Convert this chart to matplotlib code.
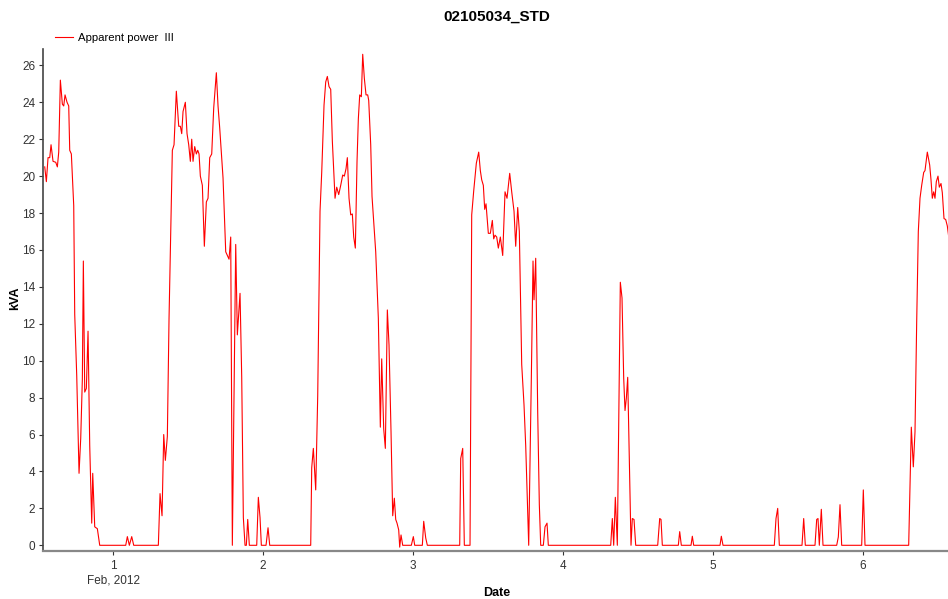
import numpy as np
import pandas as pd
import matplotlib
matplotlib.use('Agg')
import matplotlib.pyplot as plt
import matplotlib.dates as mdates

plt.rcParams['font.family'] = ['Liberation Sans', 'DejaVu Sans']

# 读数：相对 2012-02-01 00:00 的小时数，以及视在功率 (kVA)
hours = [-10.93, -10.67, -10.40, -10.13, -9.92, -9.60, -9.17, -8.91, -8.69, -8.43,
         -8.11, -7.89, -7.68, -7.36, -7.09, -6.93, -6.67, -6.29, -6.13, -5.81,
         -5.44, -5.17, -4.91, -4.75, -4.53, -4.27, -4.00, -3.73, -3.41, -3.25,
         -2.93, -2.51, -2.13, 2.03, 2.29, 2.61, 2.99, 3.31, 7.25, 7.52,
         7.84, 8.11, 8.37, 8.69, 8.96, 9.23, 9.49, 9.76, 10.13, 10.51,
         10.77, 10.99, 11.20, 11.57, 11.84, 12.11, 12.37, 12.59, 12.80, 13.07,
         13.33, 13.55, 13.76, 13.97, 14.29, 14.61, 14.93, 15.20, 15.47, 15.79,
         16.11, 16.53, 16.80, 17.07, 17.60, 18.03, 18.56, 18.83, 19.09, 19.63,
         19.89, 20.32, 20.59, 20.85, 21.12, 21.33, 21.55, 21.81, 22.99, 23.25,
         23.52, 23.73, 24.48, 24.80, 25.07, 31.63, 31.79, 32.05, 32.43, 32.75,
         33.12, 33.39, 33.76, 34.03, 34.29, 34.56, 34.83, 35.09, 35.52, 35.79,
         36.11, 36.43, 36.75, 37.01, 37.28, 37.49, 37.76, 38.03, 38.29, 38.51,
         38.77, 39.04, 39.25, 39.47, 39.73, 39.95, 40.21, 40.48, 40.75, 40.91,
         41.23, 41.44, 42.03, 42.45, 42.77, 42.99, 43.31, 43.57, 43.89, 44.16,
         44.48, 44.75, 45.01, 45.23, 45.44, 45.71, 45.87, 46.08, 46.35, 47.73,
         48.05, 48.27, 49.49, 49.71, 50.03, 50.29, 55.47, 55.63, 55.95, 56.21,
         57.12, 57.39, 57.71, 58.13, 58.51, 58.77, 58.99, 59.25, 59.47, 59.68,
         60.05, 60.37, 60.69, 60.91, 61.12, 61.39, 61.65, 61.97, 62.35, 62.72,
         63.04, 63.47, 63.79, 64.16, 64.43, 64.75, 65.01, 65.39, 65.76, 66.03,
         66.51, 66.93, 67.20, 67.36, 67.63, 67.95, 68.21, 68.43, 68.85, 69.12,
         69.44, 69.65, 79.63, 79.89, 80.11, 80.37, 80.69, 81.17, 81.44, 81.71,
         81.92, 82.13, 82.35, 82.61, 82.88, 83.09, 83.36, 83.63, 87.15, 87.47,
         87.68, 87.89, 90.45, 90.67, 90.93, 92.48, 92.69, 92.91, 97.12, 97.33,
         97.60, 105.81, 106.08, 106.35, 106.61, 110.24, 110.51, 110.77, 112.32, 112.59,
         112.80, 113.01, 113.33, 113.60, 115.79, 116.05, 116.32, 116.59, 119.79, 120.05,
         120.32, 127.31, 127.73, 128.05, 128.32, 128.59, 128.85, 129.12, 129.39, 129.71,
         129.92, 130.29, 130.67, 130.88, 131.09, 131.31, 131.52, 131.73, 132.00, 132.21,
         132.48, 132.69, 132.96, 133.23, 133.49, 133.76]

kva = [20.5, 19.7, 21.0, 21.0, 21.7, 20.8, 20.75, 20.5, 21.3, 25.2,
       23.9, 23.8, 24.4, 24.0, 23.8, 21.4, 21.2, 18.4, 12.5, 9.2,
       3.9, 5.8, 9.0, 15.4, 8.3, 8.5, 11.6, 5.4, 1.2, 3.9,
       1.0, 0.9, 0.0, 0.0, 0.47, 0.0, 0.47, 0.0, 0.0, 2.8,
       1.6, 6.0, 4.6, 5.9, 12.3, 17.0, 21.4, 21.7, 24.6, 22.7,
       22.7, 22.3, 23.5, 24.0, 22.3, 21.7, 20.8, 22.0, 20.8, 21.6,
       21.2, 21.4, 21.2, 20.0, 19.5, 16.2, 18.6, 18.8, 21.0, 21.2,
       23.7, 25.6, 23.8, 22.6, 19.9, 15.9, 15.5, 16.7, 0.0, 16.3,
       11.4, 13.65, 9.1, 1.5, 0.0, 0.0, 1.4, 0.0, 0.0, 2.6,
       1.5, 0.0, 0.0, 0.95, 0.0, 0.0, 4.2, 5.25, 3.0, 8.1,
       18.1, 20.2, 23.85, 25.1, 25.4, 24.85, 24.7, 21.9, 18.8, 19.4,
       19.0, 19.5, 20.06, 20.0, 20.4, 21.0, 18.8, 17.9, 17.95, 16.7,
       16.1, 20.8, 23.1, 24.4, 24.3, 26.6, 25.3, 24.4, 24.4, 24.1,
       21.7, 18.9, 15.9, 12.3, 6.4, 10.1, 6.3, 5.25, 12.75, 10.85,
       6.15, 1.6, 2.55, 1.4, 1.2, 0.83, -0.1, 0.56, 0.0, 0.0,
       0.47, 0.0, 0.0, 1.3, 0.4, 0.0, 0.0, 4.7, 5.25, 0.0,
       0.0, 17.9, 19.2, 20.7, 21.3, 20.3, 19.8, 19.5, 18.2, 18.5,
       16.9, 16.9, 17.6, 16.6, 16.8, 16.7, 16.1, 16.7, 15.7, 19.15,
       18.8, 20.15, 19.15, 18.1, 16.2, 18.3, 17.0, 9.8, 7.6, 5.4,
       0.0, 9.05, 15.4, 13.3, 15.55, 7.2, 2.2, 0.0, 0.0, 1.0,
       1.2, 0.0, 0.0, 1.45, 0.0, 2.6, 0.0, 14.25, 13.4, 9.05,
       7.3, 7.96, 9.1, 4.5, 0.0, 1.45, 1.4, 0.0, 0.0, 1.45,
       1.4, 0.0, 0.0, 0.74, 0.0, 0.0, 0.49, 0.0, 0.0, 0.49,
       0.0, 0.0, 1.45, 2.0, 0.0, 0.0, 1.45, 0.0, 0.0, 1.4,
       1.45, 0.0, 1.95, 0.0, 0.0, 0.45, 2.2, 0.0, 0.0, 3.0,
       0.0, 0.0, 6.4, 4.25, 6.15, 12.1, 17.0, 18.8, 19.5, 20.2,
       20.3, 21.3, 20.6, 19.8, 18.8, 19.15, 18.8, 19.7, 20.0, 19.4,
       19.6, 19.1, 17.7, 17.65, 17.3, 16.6]

start = pd.Timestamp('2012-02-01 00:00')
t = start + pd.to_timedelta(hours, unit='h')

fig = plt.figure(figsize=(9.48, 5.99), dpi=100)
ax = fig.add_axes([0.0454, 0.0801, 0.9546, 0.8379])

ax.plot(t, kva, color='#ff0000', linewidth=0.8, label='Apparent power  III')

ax.set_xlim(start + pd.Timedelta(hours=-11.2), start + pd.Timedelta(hours=133.6))
ax.set_ylim(-0.31, 26.88)
ax.set_yticks(np.arange(0, 27, 2))

ax.xaxis.set_major_locator(mdates.DayLocator())

def day_fmt(x, pos):
    d = mdates.num2date(x)
    if d.day == 1:
        return '1\nFeb, 2012'
    return str(d.day)

ax.xaxis.set_major_formatter(plt.FuncFormatter(day_fmt))

for s in ['top', 'right']:
    ax.spines[s].set_visible(False)
ax.spines['left'].set_color('#444444')
ax.spines['left'].set_linewidth(1.2)
ax.spines['bottom'].set_color('#888888')
ax.spines['bottom'].set_linewidth(1.6)
ax.tick_params(axis='both', labelsize=8.5, colors='#333333', length=3, width=0.8)
ax.tick_params(axis='y', pad=2.5)
for lab in ax.get_xticklabels():
    lab.set_linespacing(1.3)

fig.text(497 / 948, 1 - 593 / 599, 'Date', ha='center', va='center',
         fontsize=9, fontweight='bold')
fig.text(15 / 948, 1 - 298 / 599, 'kVA', ha='center', va='center',
         rotation=90, fontsize=9, fontweight='bold')
fig.text(497 / 948, 1 - 17 / 599, '02105034_STD', ha='center', va='center',
         fontsize=11, fontweight='bold')

fig.legend(loc='center left', bbox_to_anchor=(55 / 948, 1 - 38 / 599),
           frameon=False, fontsize=8.2, handlelength=1.6, handletextpad=0.4,
           borderpad=0, borderaxespad=0)

fig.savefig('out.png', dpi=100)
